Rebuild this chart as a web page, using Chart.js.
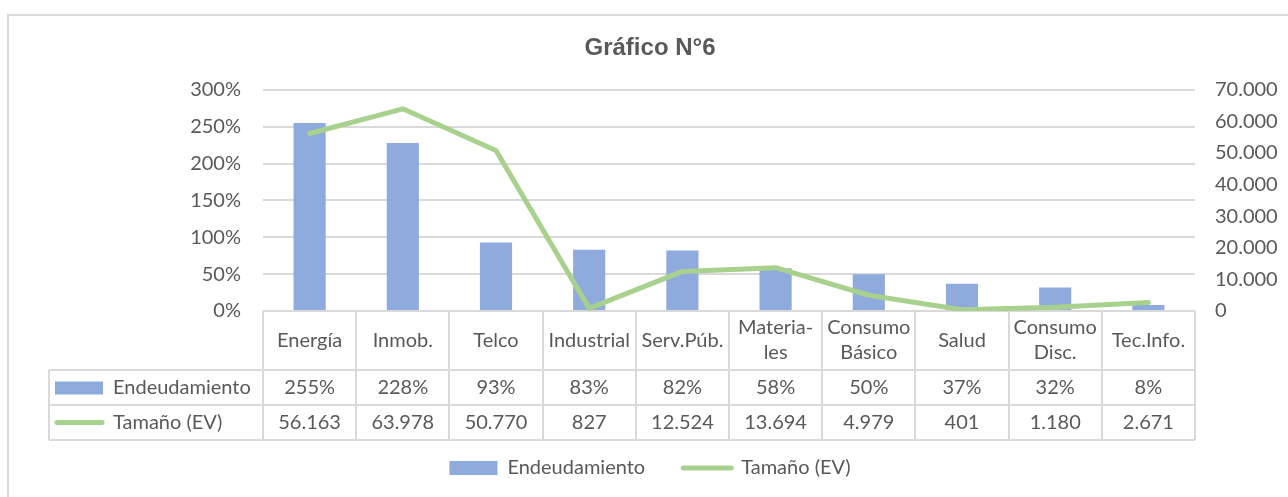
<!DOCTYPE html>
<html>
<head>
<meta charset="utf-8">
<script src="https://cdn.jsdelivr.net/npm/chart.js@4"></script>
<style>
    html, body { margin: 0; padding: 0; background: #fff; overflow: hidden; }
    #wrap { position: relative; width: 1288px; height: 497px; }
    #frame { position: absolute; left: 7px; top: 14px; width: 1300px; height: 520px; border: 2px solid #d9d9d9; box-sizing: border-box; }
    #chart { position: absolute; left: 0; top: 0; }
</style>
</head>
<body>
<div id="wrap">
    <div id="frame"></div>
    <canvas id="chart" width="1288" height="497"></canvas>
</div>
<script>
// --- Dados ---
const categorias = [['Energía'], ['Inmob.'], ['Telco'], ['Industrial'], ['Serv.Púb.'],
    ['Materia-', 'les'], ['Consumo', 'Básico'], ['Salud'], ['Consumo', 'Disc.'], ['Tec.Info.']];
const endeudamiento = [2.55, 2.28, 0.93, 0.83, 0.82, 0.58, 0.50, 0.37, 0.32, 0.08];
const tamano = [56163, 63978, 50770, 827, 12524, 13694, 4979, 401, 1180, 2671];
const nomeSeries = ['Endeudamiento', 'Tamaño (EV)'];

const AZUL = '#8faadc';
const VERDE = '#a9d18e';
const CINZA = '#d9d9d9';
const TEXTO = '#595959';
const FONTE = 'Lato';
const TAM = 20;

// altura das linhas da tabela
const ROW_HEAD = 59;
const ROW_VAL = 35;
const KEY_LEFT = 49;

function fmtPct(v) { return Math.round(v * 100) + '%'; }
function fmtMil(v) { return String(Math.round(v)).replace(/\B(?=(\d{3})+(?!\d))/g, '.'); }

// --- Plugin da tabela de dados (estilo Excel) ---
const tabelaPlugin = {
    id: 'tabela',
    afterDraw(chart) {
        const ctx = chart.ctx;
        const x = chart.scales.x;
        const area = chart.chartArea;
        const n = categorias.length;
        const step = (area.right - area.left) / n;
        const top = area.bottom;
        const y1 = top + ROW_HEAD;
        const y2 = y1 + ROW_VAL;
        const y3 = y2 + ROW_VAL;

        ctx.save();
        ctx.strokeStyle = CINZA;
        ctx.lineWidth = 2;
        ctx.beginPath();
        // verticais
        for (let i = 0; i <= n; i++) {
            const xx = Math.round(area.left + i * step);
            ctx.moveTo(xx, top);
            ctx.lineTo(xx, y3);
        }
        ctx.moveTo(KEY_LEFT, y1);
        ctx.lineTo(KEY_LEFT, y3);
        // horizontais
        [y1, y2, y3].forEach(yy => {
            ctx.moveTo(KEY_LEFT, yy);
            ctx.lineTo(area.right, yy);
        });
        ctx.stroke();

        ctx.fillStyle = TEXTO;
        ctx.font = `${TAM}px ${FONTE}`;
        ctx.textAlign = 'center';
        ctx.textBaseline = 'middle';
        categorias.forEach((lab, i) => {
            const cx = x.getPixelForValue(i);
            const cy = top + ROW_HEAD / 2;
            const lh = 25;
            lab.forEach((t, j) => {
                ctx.fillText(t, cx, cy + (j - (lab.length - 1) / 2) * lh);
            });
            ctx.fillText(fmtPct(endeudamiento[i]), cx, y1 + ROW_VAL / 2);
            ctx.fillText(fmtMil(tamano[i]), cx, y2 + ROW_VAL / 2);
        });

        // legenda das linhas
        ctx.fillStyle = AZUL;
        ctx.fillRect(55, y1 + ROW_VAL / 2 - 6, 48, 13);
        ctx.strokeStyle = VERDE;
        ctx.lineWidth = 5;
        ctx.lineCap = 'round';
        ctx.beginPath();
        ctx.moveTo(57, y2 + ROW_VAL / 2);
        ctx.lineTo(102, y2 + ROW_VAL / 2);
        ctx.stroke();
        ctx.fillStyle = TEXTO;
        ctx.textAlign = 'left';
        ctx.fillText(nomeSeries[0], 113, y1 + ROW_VAL / 2);
        ctx.fillText(nomeSeries[1], 113, y2 + ROW_VAL / 2);
        ctx.restore();
    }
};

// --- Gráfico ---
new Chart(document.getElementById('chart'), {
    type: 'bar',
    data: {
        labels: categorias,
        datasets: [
            {
                type: 'line',
                label: nomeSeries[1],
                data: tamano,
                yAxisID: 'y1',
                borderColor: VERDE,
                backgroundColor: VERDE,
                borderWidth: 5,
                borderCapStyle: 'round',
                borderJoinStyle: 'round',
                pointRadius: 0,
                tension: 0,
                order: 0
            },
            {
                type: 'bar',
                label: nomeSeries[0],
                data: endeudamiento,
                yAxisID: 'y',
                backgroundColor: AZUL,
                borderWidth: 0,
                categoryPercentage: 1,
                barPercentage: 0.345,
                order: 1
            }
        ]
    },
    options: {
        responsive: false,
        animation: false,
        layout: { padding: { left: 12, right: 0, top: 0, bottom: 9 } },
        plugins: {
            tooltip: { enabled: false },
            title: {
                display: true,
                text: 'Gráfico N°6',
                color: TEXTO,
                font: { family: 'Liberation Sans', size: 24, weight: 'bold' },
                padding: { top: 34, bottom: 27 }
            },
            legend: {
                position: 'bottom',
                labels: {
                    color: TEXTO,
                    font: { family: FONTE, size: TAM },
                    usePointStyle: true,
                    pointStyleWidth: 48,
                    boxHeight: 14,
                    padding: 18,
                    // espaços extras para afastar os itens sem aumentar a altura
                    generateLabels: () => [
                        { text: nomeSeries[0] + '\u2002\u2002', fillStyle: AZUL, strokeStyle: AZUL, lineWidth: 0, pointStyle: 'rect', fontColor: TEXTO, datasetIndex: 1 },
                        { text: nomeSeries[1], fillStyle: VERDE, strokeStyle: VERDE, lineWidth: 5, lineCap: 'round', pointStyle: 'line', fontColor: TEXTO, datasetIndex: 0 }
                    ]
                }
            }
        },
        scales: {
            x: {
                ticks: { display: false },
                grid: { display: false },
                border: { display: false },
                afterFit: s => { s.height = ROW_HEAD + ROW_VAL * 2; }
            },
            y: {
                position: 'left',
                min: 0,
                max: 3,
                ticks: { stepSize: 0.5, color: TEXTO, font: { family: FONTE, size: TAM }, padding: 22, callback: v => fmtPct(v) },
                grid: { color: CINZA, lineWidth: 2, drawTicks: false },
                border: { display: false },
                afterFit: s => { s.width = 251; }
            },
            y1: {
                position: 'right',
                min: 0,
                max: 70000,
                ticks: { stepSize: 10000, color: TEXTO, font: { family: FONTE, size: TAM }, padding: 20, callback: v => fmtMil(v) },
                grid: { display: false, drawTicks: false },
                border: { display: false },
                afterFit: s => { s.width = 93; }
            }
        }
    },
    plugins: [tabelaPlugin]
});
</script>
</body>
</html>
